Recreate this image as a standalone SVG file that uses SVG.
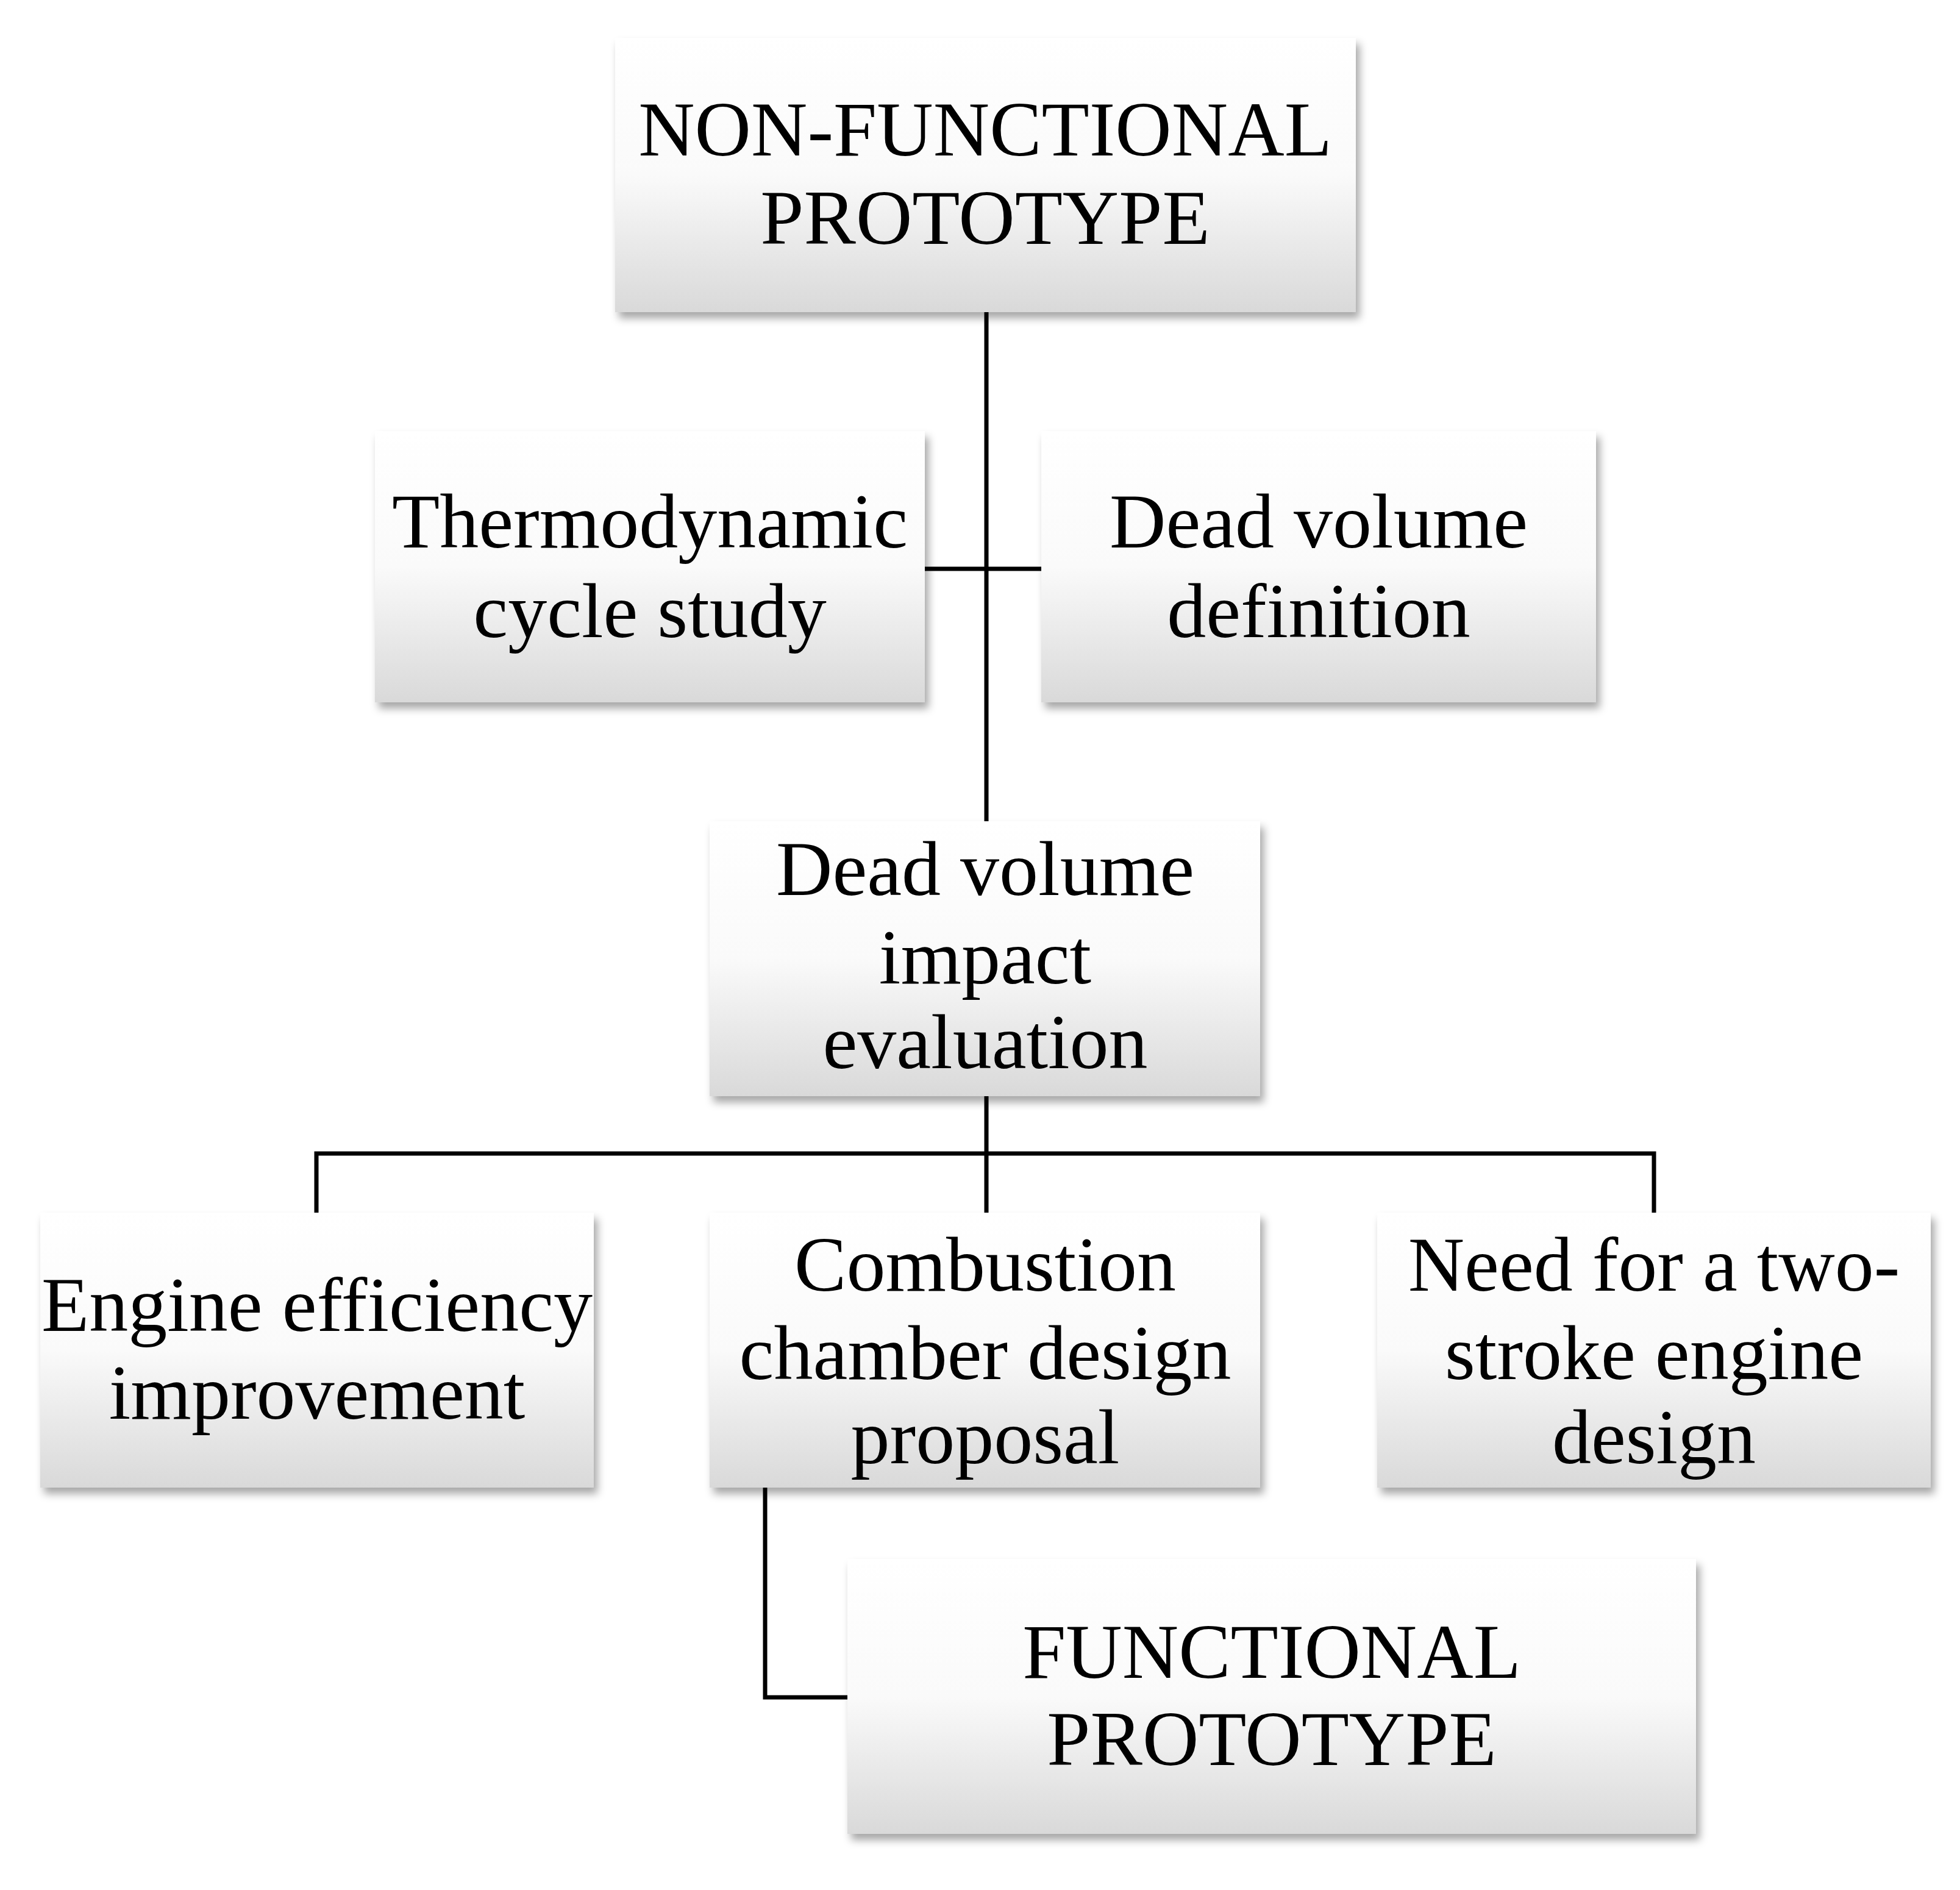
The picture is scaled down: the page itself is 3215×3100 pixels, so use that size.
<svg xmlns="http://www.w3.org/2000/svg" width="3215" height="3100" viewBox="0 0 3215 3100">
<style>
.box{fill:url(#g);filter:url(#sh)}
.t{font-family:"Liberation Serif",serif;font-size:128px;fill:#000;text-anchor:middle}
.c{fill:none;stroke:#000;stroke-width:7}
</style>
<defs>
<linearGradient id="g" x1="0" y1="0" x2="0" y2="1"><stop offset="0" stop-color="#ffffff"/><stop offset="0.5" stop-color="#fafafa"/><stop offset="1" stop-color="#d9d9d9"/></linearGradient>
<filter id="sh" x="-5%" y="-5%" width="115%" height="120%"><feDropShadow dx="6" dy="10" stdDeviation="7" flood-color="#000" flood-opacity="0.35"/></filter>
</defs>
<rect width="3215" height="3100" fill="#fff"/>
<g id="connectors">
<path class="c" d="M1618 512V1347M1517 933H1708M1618 1798V1892M519 1989V1892H2713V1989M1618 1892V1989M1255 2440V2784H1390"/>
</g>
<g id="n1"><rect class="box" x="1009" y="62" width="1215" height="450"/><text class="t" x="1616" y="255">NON-FUNCTIONAL</text><text class="t" x="1616" y="400">PROTOTYPE</text></g>
<g id="n2"><rect class="box" x="615" y="707" width="902" height="445"/><text class="t" x="1066" y="898">Thermodynamic</text><text class="t" x="1066" y="1045">cycle study</text></g>
<g id="n3"><rect class="box" x="1708" y="707" width="910" height="445"/><text class="t" x="2163" y="898">Dead volume</text><text class="t" x="2163" y="1045">definition</text></g>
<g id="n4"><rect class="box" x="1164" y="1347" width="903" height="451"/><text class="t" x="1616" y="1468">Dead volume</text><text class="t" x="1616" y="1613">impact</text><text class="t" x="1616" y="1752">evaluation</text></g>
<g id="n5"><rect class="box" x="66" y="1989" width="908" height="451"/><text class="t" x="520" y="2183">Engine efficiency</text><text class="t" x="520" y="2327">improvement</text></g>
<g id="n6"><rect class="box" x="1164" y="1989" width="903" height="451"/><text class="t" x="1616" y="2117">Combustion</text><text class="t" x="1616" y="2262">chamber design</text><text class="t" x="1616" y="2400">proposal</text></g>
<g id="n7"><rect class="box" x="2259" y="1989" width="908" height="451"/><text class="t" x="2713" y="2117">Need for a two-</text><text class="t" x="2713" y="2262">stroke engine</text><text class="t" x="2713" y="2400">design</text></g>
<g id="n8"><rect class="box" x="1390" y="2557" width="1392" height="451"/><text class="t" x="2086" y="2752">FUNCTIONAL</text><text class="t" x="2086" y="2895">PROTOTYPE</text></g>
</svg>
